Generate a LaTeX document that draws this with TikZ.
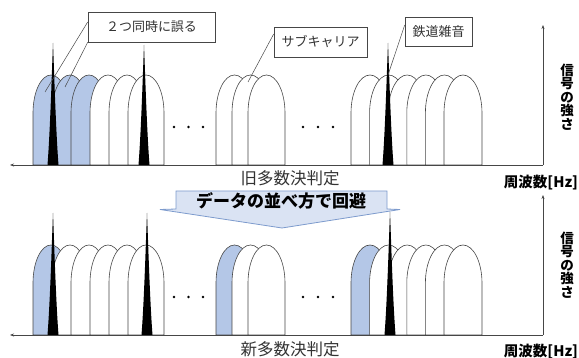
\documentclass[tikz,border=0pt]{standalone}
\usepackage{fontspec}
\newfontfamily\cjk{Noto Sans CJK JP}
\usetikzlibrary{arrows.meta}
\definecolor{subblue}{RGB}{180,199,231}
\definecolor{linegray}{RGB}{70,70,70}
\definecolor{txtgray}{RGB}{50,50,50}
\definecolor{bannerfill}{RGB}{218,227,243}
\definecolor{banneredge}{RGB}{125,155,205}
\newcommand\subarch[4]{\filldraw[archline,fill=#1] (#2,#4) -- ++(0,-52) .. controls +(0,-21) and +(-0.276*#3,0) .. ++(0.5*#3,-38) .. controls +(0.276*#3,0) and +(0,-21) .. ++(0.5*#3,38) -- ++(0,52) -- cycle;}
\newcommand\noisespike[3]{\fill[black] (#1-5.5,#3) .. controls (#1-2.8,#3-35) and (#1-1.2,#2+30) .. (#1,#2) .. controls (#1+1.2,#2+30) and (#1+2.8,#3-35) .. (#1+5.5,#3) -- cycle;}
\tikzset{
  archline/.style={draw=linegray,line width=0.6pt},
  axisline/.style={draw=linegray,line width=0.6pt,-{Stealth[length=4pt,width=3pt]}},
  callbox/.style={draw=linegray,fill=white,line width=0.6pt,inner sep=0pt,text=txtgray,font=\cjk\fontsize{13}{15}\selectfont},
  callline/.style={draw=linegray,line width=0.5pt},
  caption/.style={text=txtgray,font=\cjk\fontsize{16.5}{18}\selectfont,inner sep=0pt},
  axislabel/.style={text=black,font=\cjk\bfseries\fontsize{14.5}{16}\selectfont,inner sep=0pt},
  vlabel/.style={text=black,font=\cjk\bfseries\fontsize{13.5}{13.5}\selectfont,inner sep=0pt,align=center},
  bannertext/.style={text=black,font=\cjk\bfseries\fontsize{17}{19}\selectfont,inner sep=0pt},
  dot/.style={fill=black}
}
\begin{document}
\begin{tikzpicture}[x=1pt,y=-1pt]
\useasboundingbox (0,0) rectangle (579,358);

% ===== top panel =====
\foreach \l/\c in {33/subblue,52/subblue,71/subblue,90/white,109/white,128/white} {\subarch{\c}{\l}{36}{165}}
\foreach \l in {216,232,248} {\subarch{white}{\l}{37}{165}}
\foreach \l in {351,369.6,388.2,406.8,425.4,444} {\subarch{white}{\l}{38}{165}}
\noisespike{53}{43}{165}
\noisespike{144}{45}{165}
\noisespike{388}{43}{165}
\foreach \x in {174,188.5,203,303,318,333} {\fill[dot] (\x,127) circle (1.3pt);}

\coordinate (o1) at (543,165);
\coordinate (xe1) at (10,165);
\coordinate (ye1) at (543,25);
\draw[axisline] (o1) -- (xe1);
\draw[axisline] (o1) -- (ye1);

\node[callbox,minimum width=127pt,minimum height=30pt] (err) at (151.5,27) {２つ同時に誤る};
\node[callbox,minimum width=93pt,minimum height=30pt] (sub) at (320.5,42) {サブキャリア};
\node[callbox,minimum width=67pt,minimum height=29pt] (noise) at (438.5,31.5) {鉄道雑音};
\coordinate (e1) at (45,92);
\coordinate (e2) at (65,87);
\coordinate (s1) at (248,82);
\coordinate (n1) at (388,75);
\draw[callline] ([yshift=5pt]err.west) -- (e1);
\draw[callline] (err.south west) -- (e2);
\draw[callline] ([yshift=8pt]sub.west) -- (s1);
\draw[callline] ([yshift=6.5pt]noise.west) -- (n1);

\node[caption] (old) at (290,178) {旧多数決判定};
\node[axislabel] (hz1) at (541,183) {周波数[Hz]};
\node[vlabel] (sig1) at (567,97) {信\\号\\の\\強\\さ};

% ===== banner =====
\filldraw[fill=bannerfill,draw=banneredge,line width=0.8pt]
  (176,191) -- (387,191) -- (387,209) -- (400,209.5) -- (282,228) -- (160,209.5) -- (176,209) -- cycle;
\node[bannertext] (avoid) at (281,201) {データの並べ方で回避};

% ===== bottom panel =====
\foreach \l/\c in {33/subblue,52/white,71/white,90/white,109/white,128/white} {\subarch{\c}{\l}{36}{335}}
\foreach \l/\c in {216/subblue,232/white,248/white} {\subarch{\c}{\l}{37}{335}}
\foreach \l/\c in {351/subblue,369.6/white,388.2/white,406.8/white,425.4/white,444/white} {\subarch{\c}{\l}{38}{335}}
\noisespike{53}{213}{335}
\noisespike{147}{213}{335}
\noisespike{390}{212}{335}
\foreach \x in {174,188.5,203,303,318,333} {\fill[dot] (\x,297) circle (1.3pt);}

\coordinate (o2) at (543,335);
\coordinate (xe2) at (10,335);
\coordinate (ye2) at (543,195);
\draw[axisline] (o2) -- (xe2);
\draw[axisline] (o2) -- (ye2);

\node[caption] (new) at (290,349) {新多数決判定};
\node[axislabel] (hz2) at (541,352) {周波数[Hz]};
\node[vlabel] (sig2) at (567,265) {信\\号\\の\\強\\さ};
\end{tikzpicture}
\end{document}
